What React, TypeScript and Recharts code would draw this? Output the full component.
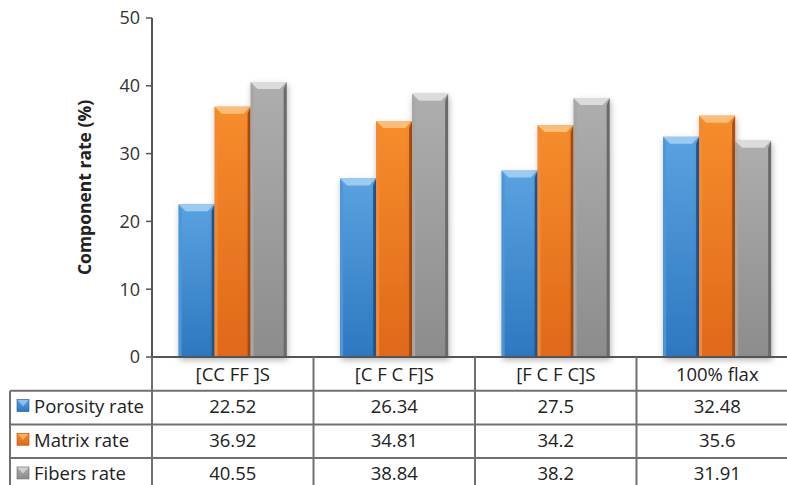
import { Bar, BarChart, XAxis, YAxis } from "recharts";

const categories = ["[CC FF ]S", "[C F C F]S", "[F C F C]S", "100% flax"];
const porosityRate = [22.52, 26.34, 27.5, 32.48];
const matrixRate = [36.92, 34.81, 34.2, 35.6];
const fibersRate = [40.55, 38.84, 38.2, 31.91];
const yTicks = [0, 10, 20, 30, 40, 50];
const seriesNames = ["Porosity rate", "Matrix rate", "Fibers rate"];
// table cells show the raw values as printed in the figure
const tableText = [
  ["22.52", "26.34", "27.5", "32.48"],
  ["36.92", "34.81", "34.2", "35.6"],
  ["40.55", "38.84", "38.2", "31.91"],
];

const data = categories.map((c, i) => ({
  category: c,
  porosity: porosityRate[i],
  matrix: matrixRate[i],
  fibers: fibersRate[i],
}));

const FONT = "'Open Sans', 'Noto Sans', sans-serif";
const W = 800;
const H = 485;
const M = { top: 18, right: 2, left: 0, bottom: 0 };
const Y_W = 152;
const X_H = 128;
const PLOT_BOTTOM = H - M.bottom - X_H;
const COL_W = (W - M.left - M.right - Y_W) / categories.length;
const ROW_H = 33.7;
const TABLE_LEFT = 10;
const LINE = "#707070";
const TABLE_FS = 18.5;

type Pal = { id: string; top: string; bottom: string; bevel: string; left: string; right: string };
const PAL: Pal[] = [
  { id: "gBlue", top: "#5aa2e0", bottom: "#2e77c0", bevel: "#9ccbf2", left: "#4b95d8", right: "#1f5a96" },
  { id: "gOrange", top: "#f68d2c", bottom: "#e0681a", bevel: "#fbbd78", left: "#f48833", right: "#b04d0e" },
  { id: "gGray", top: "#aeaeae", bottom: "#8c8c8c", bevel: "#dcdcdc", left: "#a6a6a6", right: "#6a6a6a" },
];

function BevelBar(props: any) {
  const { x, y, width: w, height: h, pal } = props as { x: number; y: number; width: number; height: number; pal: Pal };
  if (!h || h <= 0) return null;
  const b = 7;
  const e = 3;
  return (
    <g>
      <rect x={x} y={y} width={w} height={h} fill={`url(#${pal.id})`} filter="url(#barShadow)" />
      <polygon points={`${x},${y} ${x + e},${y + b} ${x + e},${y + h} ${x},${y + h}`} fill={pal.left} />
      <polygon points={`${x + w},${y} ${x + w - e},${y + b} ${x + w - e},${y + h} ${x + w},${y + h}`} fill={pal.right} />
      <polygon points={`${x},${y} ${x + w},${y} ${x + w - b},${y + b} ${x + b},${y + b}`} fill={pal.bevel} />
    </g>
  );
}

function LegendKey({ x, y, pal }: { x: number; y: number; pal: Pal }) {
  const s = 12;
  return (
    <g>
      <rect x={x} y={y} width={s} height={s} fill={`url(#${pal.id})`} />
      <polygon points={`${x},${y} ${x + s},${y} ${x + s / 2},${y + s * 0.55}`} fill={pal.bevel} opacity={0.8} />
      <rect x={x} y={y} width={s} height={s} fill="none" stroke={pal.right} strokeWidth={0.6} />
    </g>
  );
}

function TableColumn(props: any) {
  const { x, payload } = props;
  const i = categories.indexOf(payload.value);
  const left = x - COL_W / 2;
  const right = x + COL_W / 2;
  const top = PLOT_BOTTOM;
  const bottom = H + 10;
  const rowMid = (r: number) => top + ROW_H * (r + 1.5) - 2;
  return (
    <g>
      <line x1={right} y1={top} x2={right} y2={bottom} stroke={LINE} strokeWidth={2} />
      {i === 0 && <line x1={left} y1={top} x2={left} y2={bottom} stroke={LINE} strokeWidth={2} />}
      {[1, 2, 3].map((r) => (
        <line key={r} x1={left} y1={top + r * ROW_H} x2={right} y2={top + r * ROW_H} stroke={LINE} strokeWidth={2} />
      ))}
      <text x={x} y={top + ROW_H / 2} textAnchor="middle" dominantBaseline="central" fontFamily={FONT} fontSize={TABLE_FS} fill="#222">
        {payload.value}
      </text>
      {tableText.map((row, r) => (
        <text
          key={r}
          x={x}
          y={rowMid(r)}
          textAnchor="middle"
          dominantBaseline="central"
          fontFamily={FONT}
          fontSize={TABLE_FS}
          fill="#222"
        >
          {row[i]}
        </text>
      ))}
      {i === 0 && (
        <g>
          <line x1={TABLE_LEFT} y1={top + ROW_H} x2={TABLE_LEFT} y2={bottom} stroke={LINE} strokeWidth={2} />
          {[1, 2, 3].map((r) => (
            <line key={r} x1={TABLE_LEFT} y1={top + r * ROW_H} x2={left} y2={top + r * ROW_H} stroke={LINE} strokeWidth={2} />
          ))}
          {seriesNames.map((name, r) => (
            <g key={name}>
              <LegendKey x={TABLE_LEFT + 7} y={rowMid(r) - 6} pal={PAL[r]} />
              <text x={TABLE_LEFT + 24} y={rowMid(r)} dominantBaseline="central" fontFamily={FONT} fontSize={TABLE_FS} fill="#222">
                {name}
              </text>
            </g>
          ))}
        </g>
      )}
    </g>
  );
}

export default function App() {
  return (
    <div style={{ position: "absolute", left: 0, top: 0, width: 787, height: 485, overflow: "hidden", background: "#fff" }}>
      <BarChart width={W} height={H} data={data} margin={M} barCategoryGap="16.5%" barGap={0}>
        <defs>
          {PAL.map((p) => (
            <linearGradient key={p.id} id={p.id} x1="0" y1="0" x2="0" y2="1">
              <stop offset="0%" stopColor={p.top} />
              <stop offset="100%" stopColor={p.bottom} />
            </linearGradient>
          ))}
          <filter id="barShadow" x="-30%" y="-10%" width="160%" height="130%">
            <feDropShadow dx="1" dy="3" stdDeviation="3" floodColor="#000" floodOpacity="0.3" />
          </filter>
        </defs>
        <YAxis
          type="number"
          domain={[0, 50]}
          ticks={yTicks}
          width={Y_W}
          tickSize={6}
          tickMargin={6}
          axisLine={{ stroke: "#555", strokeWidth: 2 }}
          tickLine={{ stroke: "#555", strokeWidth: 1.5 }}
          tick={{ fill: "#333", fontSize: 18, fontFamily: FONT }}
          label={(p: any) => {
            const vb = p.viewBox || { x: 0, y: M.top, height: PLOT_BOTTOM - M.top };
            const cx = vb.x + 84;
            const cy = vb.y + vb.height / 2;
            return (
              <text
                x={cx}
                y={cy}
                transform={`rotate(-90 ${cx} ${cy})`}
                textAnchor="middle"
                dominantBaseline="central"
                fontFamily={FONT}
                fontWeight={700}
                fontSize={17.5}
                fill="#222"
              >
                Component rate (%)
              </text>
            );
          }}
        />
        <XAxis
          dataKey="category"
          height={X_H}
          interval={0}
          tickLine={false}
          axisLine={{ stroke: "#555", strokeWidth: 2 }}
          tick={(p: any) => <TableColumn {...p} />}
        />
        <Bar dataKey="porosity" name="Porosity rate" isAnimationActive={false} shape={(p: any) => <BevelBar {...p} pal={PAL[0]} />} />
        <Bar dataKey="matrix" name="Matrix rate" isAnimationActive={false} shape={(p: any) => <BevelBar {...p} pal={PAL[1]} />} />
        <Bar dataKey="fibers" name="Fibers rate" isAnimationActive={false} shape={(p: any) => <BevelBar {...p} pal={PAL[2]} />} />
      </BarChart>
    </div>
  );
}
